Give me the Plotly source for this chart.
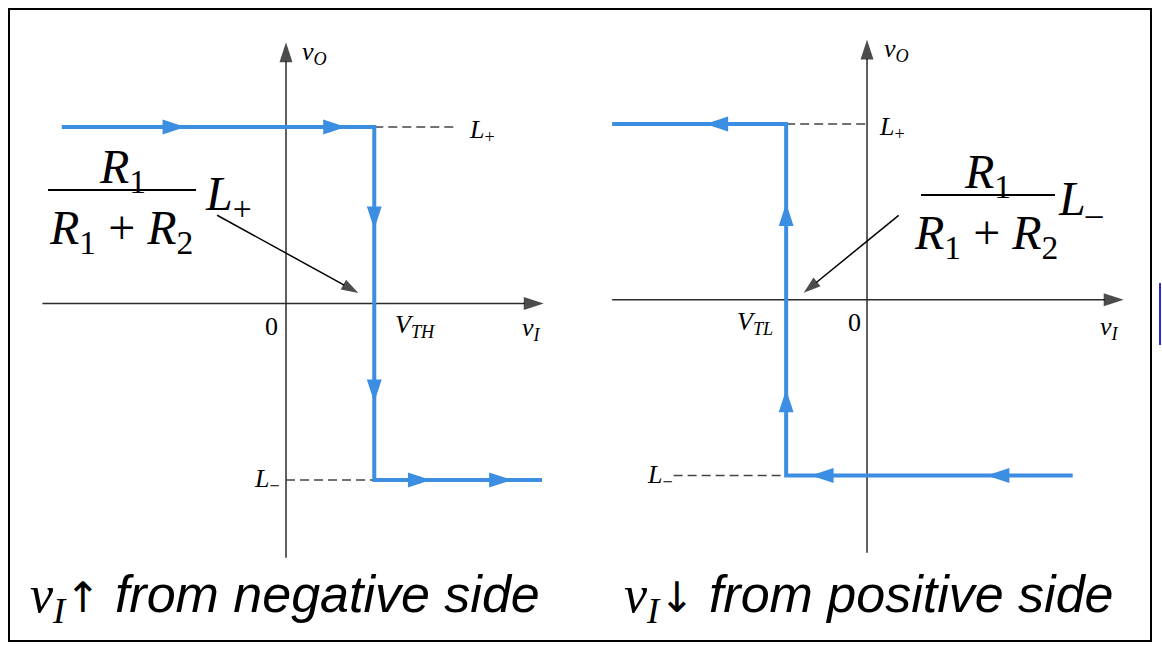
import plotly.graph_objects as go

W, H = 1162, 652

# ---- chart values (normalised units: L+ = 1, L- = -1) ----
L_PLUS = 1.0
L_MINUS = -1.0
V_TH = 0.5
V_TL = -0.46

# left panel: vI increasing from the negative side
left_sweep_vI = [-1.27, V_TH, V_TH, 1.45]
left_sweep_vO = [L_PLUS, L_PLUS, L_MINUS, L_MINUS]
left_dir_vI = [-0.57, 0.34, V_TH, V_TH, 0.82, 1.28]
left_dir_vO = [L_PLUS, L_PLUS, 0.42, -0.56, L_MINUS, L_MINUS]
left_dir_angle = [90, 90, 180, 180, 90, 90]

# right panel: vI decreasing from the positive side
right_sweep_vI = [1.17, V_TL, V_TL, -1.45]
right_sweep_vO = [L_MINUS, L_MINUS, L_PLUS, L_PLUS]
right_dir_vI = [0.68, -0.32, V_TL, V_TL, -0.92]
right_dir_vO = [L_MINUS, L_MINUS, -0.51, 0.55, L_PLUS]
right_dir_angle = [270, 270, 0, 0, 270]

# axis extents
left_axis_vI = [-1.38, 1.46]
left_axis_vO = [-1.44, 1.48]
right_axis_vI = [-1.45, 1.46]
right_axis_vO = [-1.44, 1.48]

left_dash_top_end = 0.97
right_dash_bottom_start = -1.10

left_callout_vI = [-0.39, 0.41]
left_callout_vO = [0.50, 0.06]
right_callout_vI = [0.18, -0.36]
right_callout_vO = [0.48, 0.04]

BLUE = "#3b8ee2"
AX = "#2b2b2b"
DASH = "#444444"
SERIF = "Liberation Serif, Times New Roman, serif"
SANS = "Liberation Sans, Arial, sans-serif"

fig = go.Figure()


def panel(xa, ya, ax_vI, ax_vO, sweep_vI, sweep_vO, d_vI, d_vO, d_ang,
          dash_top, dash_bot, call_vI, call_vO):
    # axes with arrow tips
    fig.add_trace(go.Scatter(x=[ax_vI[0], ax_vI[1]], y=[0, 0], xaxis=xa, yaxis=ya,
                             mode="lines+markers",
                             line=dict(color=AX, width=1.5),
                             marker=dict(symbol="arrow", size=[0, 21], angleref="previous",
                                         color="black", line=dict(width=0)),
                             hoverinfo="skip", showlegend=False))
    fig.add_trace(go.Scatter(x=[0, 0], y=[ax_vO[0], ax_vO[1]], xaxis=xa, yaxis=ya,
                             mode="lines+markers",
                             line=dict(color=AX, width=1.5),
                             marker=dict(symbol="arrow", size=[0, 21], angleref="previous",
                                         color="black", line=dict(width=0)),
                             hoverinfo="skip", showlegend=False))
    # dashed level lines
    for (xs, ys) in (dash_top, dash_bot):
        fig.add_trace(go.Scatter(x=xs, y=ys, xaxis=xa, yaxis=ya, mode="lines",
                                 line=dict(color=DASH, width=1.5, dash="9px,5px"),
                                 hoverinfo="skip", showlegend=False))
    # transfer characteristic
    fig.add_trace(go.Scatter(x=sweep_vI, y=sweep_vO, xaxis=xa, yaxis=ya, mode="lines",
                             line=dict(color=BLUE, width=4),
                             hoverinfo="skip", showlegend=False))
    fig.add_trace(go.Scatter(x=d_vI, y=d_vO, xaxis=xa, yaxis=ya, mode="markers",
                             marker=dict(symbol="arrow", size=24, angle=d_ang,
                                         color=BLUE, line=dict(width=0)),
                             hoverinfo="skip", showlegend=False))
    # callout arrow
    fig.add_trace(go.Scatter(x=call_vI, y=call_vO, xaxis=xa, yaxis=ya,
                             mode="lines+markers",
                             line=dict(color="black", width=1.5),
                             marker=dict(symbol="arrow", size=[0, 18], angleref="previous",
                                         color="black", line=dict(width=0)),
                             hoverinfo="skip", showlegend=False))


panel("x", "y", left_axis_vI, left_axis_vO, left_sweep_vI, left_sweep_vO,
      left_dir_vI, left_dir_vO, left_dir_angle,
      ([V_TH, left_dash_top_end], [L_PLUS, L_PLUS]),
      ([0, V_TH], [L_MINUS, L_MINUS]),
      left_callout_vI, left_callout_vO)
panel("x2", "y2", right_axis_vI, right_axis_vO, right_sweep_vI, right_sweep_vO,
      right_dir_vI, right_dir_vO, right_dir_angle,
      ([V_TL, 0], [L_PLUS, L_PLUS]),
      ([right_dash_bottom_start, V_TL], [L_MINUS, L_MINUS]),
      right_callout_vI, right_callout_vO)


def px(x):
    return x / W


def py(y):
    return 1 - y / H


ann = []


def lab(text, x, y, xr, yr, size=26, xanchor="center", yanchor="middle", family=SERIF):
    ann.append(dict(text=text, x=x, y=y, xref=xr, yref=yr, showarrow=False,
                    xanchor=xanchor, yanchor=yanchor,
                    font=dict(family=family, size=size, color="black")))


# small axis labels (data coordinates)
lab("<i>v</i><sub><i>O</i></sub>", 0.16, 1.42, "x", "y")
lab("<i>L</i><sub>+</sub>", 1.11, 0.98, "x", "y")
lab("<i>L</i><sub>\u2212</sub>", -0.11, L_MINUS, "x", "y")
lab("0", -0.08, -0.13, "x", "y")
lab("<i>V</i><sub><i>TH</i></sub>", 0.73, -0.13, "x", "y")
lab("<i>v</i><sub><i>I</i></sub>", 1.39, -0.145, "x", "y")

lab("<i>v</i><sub><i>O</i></sub>", 0.165, 1.42, "x2", "y2")
lab("<i>L</i><sub>+</sub>", 0.14, 0.98, "x2", "y2")
lab("<i>L</i><sub>\u2212</sub>", -1.18, L_MINUS, "x2", "y2")
lab("0", -0.07, -0.13, "x2", "y2")
lab("<i>V</i><sub><i>TL</i></sub>", -0.64, -0.13, "x2", "y2")
lab("<i>v</i><sub><i>I</i></sub>", 1.38, -0.16, "x2", "y2")

# fractions (paper coordinates)
lab("<i>R</i><sub>1</sub>", px(122), py(170), "paper", "paper", size=48)
lab("<i>R</i><sub>1</sub> + <i>R</i><sub>2</sub>", px(121), py(231), "paper", "paper", size=48)
lab("<i>L</i><sub>+</sub>", px(203), py(197), "paper", "paper", size=48, xanchor="left")

lab("<i>R</i><sub>1</sub>", px(987), py(175), "paper", "paper", size=48)
lab("<i>R</i><sub>1</sub> + <i>R</i><sub>2</sub>", px(986), py(236), "paper", "paper", size=48)
lab("<i>L</i><sub>\u2013</sub>", px(1056), py(202), "paper", "paper", size=48, xanchor="left")

# captions
cap_l = ("<span style='font-family:Liberation Serif'><i>v</i><sub><i>I</i></sub></span>"
         "<span style='font-family:DejaVu Sans;font-size:42px'>\u2191</span>"
         " <i>from negative side</i>")
cap_r = ("<span style='font-family:Liberation Serif'><i>v</i><sub><i>I</i></sub></span>"
         "<span style='font-family:DejaVu Sans;font-size:42px'>\u2193</span>"
         " <i>from positive side</i>")
lab(cap_l, px(28), py(598), "paper", "paper", size=52, xanchor="left", family=SANS)
lab(cap_r, px(622), py(598), "paper", "paper", size=52, xanchor="left", family=SANS)

shapes = [
    dict(type="rect", xref="paper", yref="paper", x0=px(9), x1=px(1151), y0=py(641), y1=py(9),
         line=dict(color="black", width=2)),
    dict(type="line", xref="paper", yref="paper", x0=px(48), x1=px(196), y0=py(190), y1=py(190),
         line=dict(color="black", width=2)),
    dict(type="line", xref="paper", yref="paper", x0=px(921), x1=px(1055), y0=py(195), y1=py(195),
         line=dict(color="black", width=2)),
    dict(type="line", xref="paper", yref="paper", x0=px(1160), x1=px(1160), y0=py(345), y1=py(283),
         line=dict(color="#2a2ad0", width=2)),
]

ax_common = dict(visible=False, showgrid=False, zeroline=False, fixedrange=True)
fig.update_layout(
    width=W, height=H, margin=dict(l=0, r=0, t=0, b=0),
    paper_bgcolor="white", plot_bgcolor="white", showlegend=False,
    xaxis=dict(domain=[0, 0.5], range=[-1.620, 1.671], **ax_common),
    yaxis=dict(domain=[0, 1], range=[-1.9745, 1.7195], anchor="x", **ax_common),
    xaxis2=dict(domain=[0.5, 1], range=[-1.627, 1.678], **ax_common),
    yaxis2=dict(domain=[0, 1], range=[-2.004, 1.7055], anchor="x2", **ax_common),
    annotations=ann, shapes=shapes,
)

fig.write_html("out.html",
               config={"displayModeBar": False, "staticPlot": True},
               post_script="document.body.style.margin='0';document.body.style.overflow='hidden';")
